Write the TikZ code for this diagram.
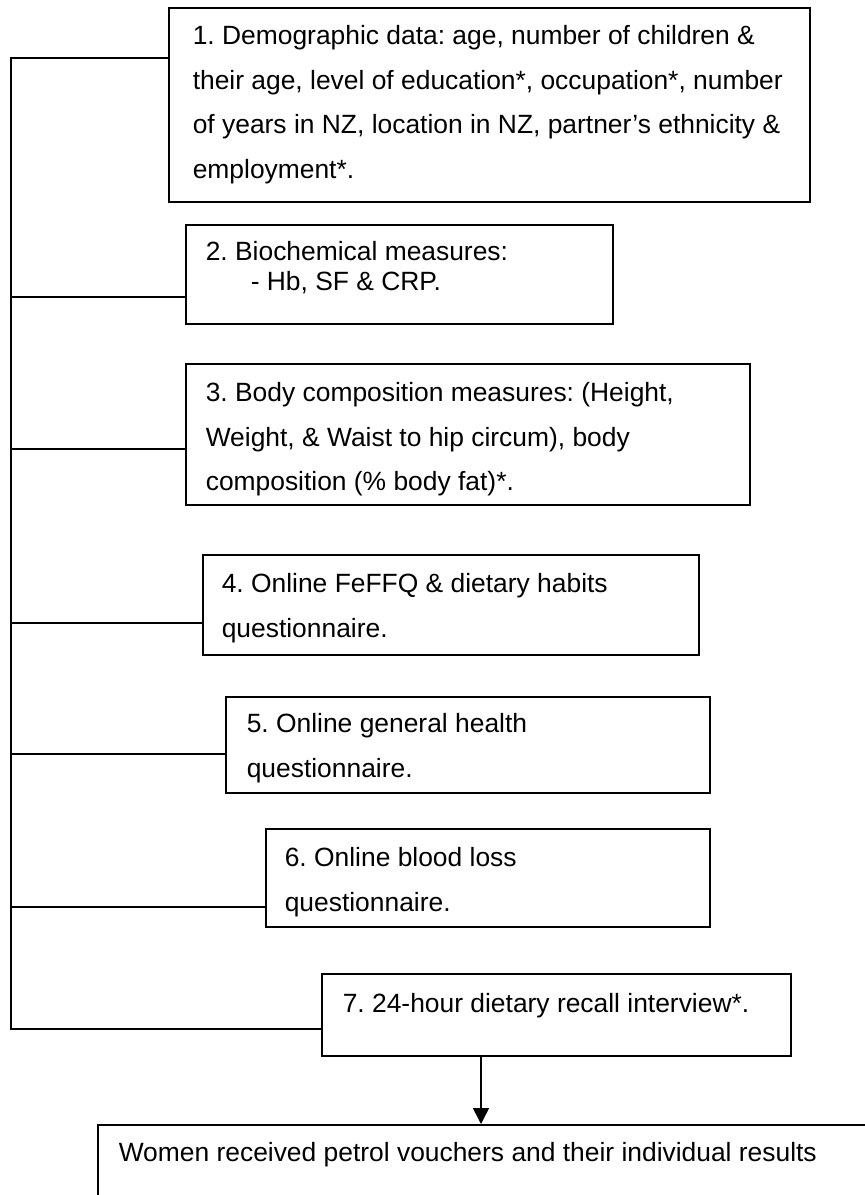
\documentclass[tikz,border=0pt]{standalone}
\usepackage{fontspec}
\setmainfont{Liberation Sans}
\usetikzlibrary{arrows.meta}
\frenchspacing

\begin{document}
\begin{tikzpicture}[x=1pt,y=-1pt,line width=1.6pt,
  stagebox/.style={draw,anchor=north west,inner sep=0pt},
  stagetext/.style={anchor=north west,inner sep=0pt,align=left,
    font=\fontsize{26.4}{44.5}\selectfont},
  flow/.style={-{Triangle[length=16pt,width=16pt]}}]
\clip (0,0) rectangle (865,1195);
% boxes
\node[stagebox,minimum width=641pt,minimum height=194pt] (b1) at (168,7) {};
\node[stagebox,minimum width=427pt,minimum height=99pt] (b2) at (185,224) {};
\node[stagebox,minimum width=564pt,minimum height=141pt] (b3) at (185,363) {};
\node[stagebox,minimum width=496pt,minimum height=100pt] (b4) at (202,554) {};
\node[stagebox,minimum width=484pt,minimum height=96pt] (b5) at (225,696) {};
\node[stagebox,minimum width=444pt,minimum height=98pt] (b6) at (265,828) {};
\node[stagebox,minimum width=469pt,minimum height=82pt] (b7) at (321,973) {};
\node[stagebox,minimum width=820pt,minimum height=120pt] (b8) at (97,1124) {};
% texts
\node[stagetext] (t1) at ([shift={(24,18)}]b1.north west)
  {1. Demographic data: age, number of children \&\\
   their age, level of education*, occupation*, number\\
   of years in NZ, location in NZ, partner’s ethnicity \&\\
   employment*.};
\node[stagetext,font=\fontsize{26.4}{30}\selectfont] (t2) at ([shift={(20,17)}]b2.north west)
  {2. Biochemical measures:\\ \hspace*{45pt}- Hb, SF \& CRP.};
\node[stagetext] (t3) at ([shift={(20,19)}]b3.north west)
  {3. Body composition measures: (Height,\\
   Weight, \& Waist to hip circum), body\\
   composition (\% body fat)*.};
\node[stagetext] (t4) at ([shift={(19,19)}]b4.north west)
  {4. Online FeFFQ \& dietary habits\\ questionnaire.};
\node[stagetext] (t5) at ([shift={(21,17)}]b5.north west)
  {5. Online general health\\ questionnaire.};
\node[stagetext] (t6) at ([shift={(19,19)}]b6.north west)
  {6. Online blood loss\\ questionnaire.};
\node[stagetext] (t7) at ([shift={(21,20)}]b7.north west)
  {7. 24-hour dietary recall interview*.};
\node[stagetext] (t8) at ([shift={(21,18)}]b8.north west)
  {Women received petrol vouchers and their individual results};
% trunk
\coordinate (j1) at (11,58);
\coordinate (j2) at (11,297);
\coordinate (j3) at (11,449);
\coordinate (j4) at (11,623);
\coordinate (j5) at (11,754);
\coordinate (j6) at (11,907);
\coordinate (j7) at (11,1029);
\draw (j1 -| b1.west) -- (j1) -- (j7) -- (j7 -| b7.west);
\foreach \k in {2,...,6}
  \draw (j\k) -- (j\k -| b\k.west);
% to the last box
\draw[flow] ([xshift=160pt]b7.south west) coordinate (a7) -- (a7 |- b8.north);
\end{tikzpicture}
\end{document}
